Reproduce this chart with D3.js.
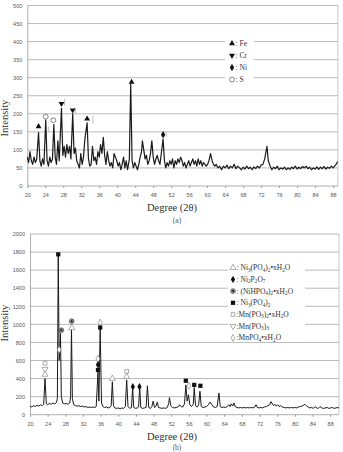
<!DOCTYPE html>
<html>
<head>
<meta charset="utf-8">
<script src="https://cdn.jsdelivr.net/npm/d3@7"></script>
<style>
body { margin: 0; background: #fff; }
</style>
</head>
<body>
<script>
const width = 343, height = 452;

// ---- panel (a) : XRD trace, [2theta, intensity]
const traceA = [
  [20.0,80],[20.3,65],[20.6,95],[20.9,70],[21.2,60],[21.5,80],[21.8,65],[22.1,75],[22.5,148],[22.8,70],
  [23.1,55],[23.4,75],[23.7,60],[24.1,183],[24.4,70],[24.7,55],[25.0,80],[25.3,65],[25.6,75],[25.9,170],
  [26.2,80],[26.5,60],[26.8,125],[27.1,70],[27.6,215],[27.9,85],[28.2,110],[28.5,80],[28.8,115],[29.1,90],
  [29.4,110],[29.7,75],[30.1,200],[30.4,90],[30.7,105],[31.0,70],[31.3,60],[31.6,50],[31.9,90],[32.2,60],
  [32.5,80],[32.8,130],[33.3,175],[33.6,75],[33.9,55],[34.2,60],[34.5,110],[34.8,70],[35.1,80],[35.4,60],
  [35.7,95],[36.0,80],[36.3,115],[36.6,90],[36.9,135],[37.2,85],[37.5,60],[37.8,95],[38.1,70],[38.4,55],
  [38.7,65],[39.0,50],[39.3,90],[39.6,80],[39.9,70],[40.2,55],[40.5,65],[40.8,45],[41.1,60],[41.4,80],
  [41.7,50],[42.0,70],[42.3,45],[42.7,75],[43.0,283],[43.3,70],[43.6,50],[43.9,65],[44.2,55],[44.5,45],
  [44.8,60],[45.1,80],[45.4,95],[45.6,125],[45.9,100],[46.2,75],[46.5,85],[46.8,60],[47.1,70],[47.4,90],
  [47.7,125],[48.0,80],[48.3,60],[48.6,75],[48.9,85],[49.2,70],[49.5,60],[49.8,90],[50.2,130],[50.5,70],
  [50.8,50],[51.1,65],[51.4,55],[51.7,70],[52.0,60],[52.3,75],[52.6,50],[52.9,70],[53.2,60],[53.5,75],
  [53.8,65],[54.1,80],[54.4,70],[54.7,55],[55.0,65],[55.3,50],[55.6,60],[55.9,70],[56.2,55],[56.5,65],
  [56.8,75],[57.1,60],[57.4,70],[57.7,55],[58.0,75],[58.3,60],[58.6,70],[58.9,55],[59.2,65],[59.5,60],
  [59.8,55],[60.1,60],[60.4,70],[60.75,90],[61.1,70],[61.4,60],[61.7,55],[62.0,60],[62.4,50],[62.8,55],
  [63.2,45],[63.6,55],[64.0,50],[64.4,58],[64.8,48],[65.2,55],[65.6,50],[66.0,60],[66.4,48],[66.8,55],
  [67.2,50],[67.6,45],[68.0,52],[68.4,47],[68.8,55],[69.2,48],[69.6,52],[70.0,45],[70.4,53],[70.8,48],
  [71.2,55],[71.6,50],[72.0,58],[72.4,60],[72.8,75],[73.3,110],[73.6,70],[74.0,55],[74.4,45],[74.8,52],
  [75.2,48],[75.6,55],[76.0,45],[76.4,50],[76.8,47],[77.2,52],[77.6,45],[78.0,50],[78.4,46],[78.8,52],
  [79.2,48],[79.6,55],[80.0,47],[80.4,52],[80.8,48],[81.2,54],[81.6,50],[82.0,55],[82.4,48],[82.8,52],
  [83.2,45],[83.6,50],[84.0,47],[84.4,53],[84.8,46],[85.2,52],[85.6,48],[86.0,54],[86.4,47],[86.8,52],
  [87.2,49],[87.6,55],[88.0,50],[88.4,56],[88.8,62],[89.0,68]
];
const yTicksA = [0,50,100,150,200,250,300,350,400,450,500];
// phase markers on the peaks
const markersA = [
  {deg:22.5, val:165, sym:"tri"},
  {deg:24.1, val:192, sym:"circle"},
  {deg:25.8, val:182, sym:"circle"},
  {deg:27.6, val:228, sym:"triDown"},
  {deg:30.1, val:210, sym:"triDown"},
  {deg:33.3, val:186, sym:"tri"},
  {deg:43.2, val:288, sym:"tri"},
  {deg:50.2, val:142, sym:"diamond"}
];
// little pointer lines beside some markers: [2theta, from, to]
const leadersA = [[28.3,222,242],[30.7,200,216],[34.6,172,194],[50.9,136,150],[24.7,150,165]];
const legendA = [
  {sym:"tri", label:": Fe"},
  {sym:"triDown", label:": Cr"},
  {sym:"diamond", label:": Ni"},
  {sym:"circle", label:": S"}
];

// ---- panel (b)
const traceB = [
  [20.0,95],[20.4,85],[20.8,100],[21.2,90],[21.6,105],[22.0,95],[22.4,110],[22.8,100],[23.1,115],[23.4,400],
  [23.7,120],[24.0,110],[24.4,125],[24.8,115],[25.2,130],[25.6,120],[26.0,135],[26.2,180],[26.4,1760],[26.6,600],
  [26.75,700],[26.9,900],[27.1,200],[27.4,130],[27.8,120],[28.2,125],[28.6,115],[29.0,130],[29.2,200],[29.4,950],
  [29.6,180],[29.9,110],[30.3,100],[30.7,95],[31.1,100],[31.5,90],[31.9,95],[32.3,85],[32.7,90],[33.1,80],
  [33.5,85],[33.9,80],[34.3,85],[34.7,80],[35.0,90],[35.4,470],[35.6,150],[35.9,960],[36.2,130],[36.5,90],
  [36.9,80],[37.3,85],[37.7,75],[38.1,80],[38.4,100],[38.65,365],[38.9,100],[39.2,75],[39.6,70],[40.0,75],
  [40.4,65],[40.8,75],[41.2,70],[41.6,90],[41.9,385],[42.2,90],[42.6,70],[43.0,80],[43.25,300],[43.5,80],
  [43.9,70],[44.3,75],[44.6,85],[44.85,300],[45.1,80],[45.5,70],[45.9,75],[46.3,80],[46.6,320],[46.9,80],
  [47.3,70],[47.6,90],[47.9,150],[48.2,80],[48.5,90],[48.85,140],[49.1,80],[49.5,75],[49.9,70],[50.3,75],
  [50.7,70],[51.1,80],[51.4,120],[51.6,190],[51.9,100],[52.3,80],[52.7,75],[53.1,80],[53.5,85],[53.9,110],
  [54.2,90],[54.6,85],[55.0,120],[55.3,330],[55.6,150],[55.9,220],[56.2,110],[56.6,90],[57.0,120],[57.2,300],
  [57.5,100],[57.9,85],[58.2,110],[58.5,260],[58.8,90],[59.2,80],[59.6,85],[60.0,90],[60.4,110],[60.8,140],
  [61.2,110],[61.6,85],[62.0,80],[62.4,90],[62.8,240],[63.1,90],[63.5,80],[63.9,85],[64.3,80],[64.7,90],
  [65.0,110],[65.3,90],[65.6,120],[65.9,95],[66.2,130],[66.5,90],[66.9,80],[67.3,75],[67.7,80],[68.1,75],
  [68.5,80],[68.9,75],[69.3,80],[69.7,75],[70.1,80],[70.5,75],[70.9,85],[71.2,110],[71.5,80],[71.9,75],
  [72.3,80],[72.7,75],[73.1,85],[73.5,90],[73.9,100],[74.3,110],[74.6,145],[74.9,120],[75.2,100],[75.5,115],
  [75.8,95],[76.1,110],[76.4,90],[76.8,100],[77.2,85],[77.6,80],[78.0,75],[78.4,80],[78.8,75],[79.2,80],
  [79.6,75],[80.0,80],[80.4,75],[80.8,85],[81.2,90],[81.6,95],[82.0,105],[82.3,115],[82.6,100],[83.0,85],
  [83.4,75],[83.8,80],[84.2,70],[84.6,90],[84.9,75],[85.3,70],[85.7,90],[86.1,75],[86.5,70],[86.9,75],
  [87.3,80],[87.7,70],[88.1,75],[88.5,80],[88.9,70],[89.3,75],[89.7,80],[90.0,75]
];
const yTicksB = [0,200,400,600,800,1000,1200,1400,1600,1800,2000];
const markersB = [
  {deg:23.4, val:570, sym:"squareOpen"},
  {deg:23.4, val:505, sym:"triDownOpen"},
  {deg:23.4, val:445, sym:"triOpen"},
  {deg:26.4, val:1775, sym:"square"},
  {deg:27.1, val:935, sym:"dotCircle"},
  {deg:26.6, val:720, sym:"diamondOpen"},
  {deg:29.45, val:1035, sym:"dotCircle"},
  {deg:29.45, val:960, sym:"triOpen"},
  {deg:35.4, val:620, sym:"diamondOpen"},
  {deg:35.4, val:553, sym:"diamond"},
  {deg:35.4, val:495, sym:"square"},
  {deg:35.9, val:1020, sym:"diamondOpen"},
  {deg:35.9, val:965, sym:"square"},
  {deg:38.65, val:400, sym:"triOpen"},
  {deg:41.9, val:480, sym:"squareOpen"},
  {deg:41.9, val:420, sym:"triOpen"},
  {deg:43.3, val:310, sym:"diamond"},
  {deg:44.8, val:310, sym:"diamond"},
  {deg:55.3, val:376, sym:"square"},
  {deg:56.0, val:318, sym:"diamondOpen"},
  {deg:57.2, val:330, sym:"square"},
  {deg:58.6, val:320, sym:"square"}
];
// "_" marks the next digit as a subscript
const legendB = [
  {sym:"triOpen", label:": Ni_3(PO_4)_2•xH_2O"},
  {sym:"diamond", label:": Ni_2P_2O_7"},
  {sym:"dotCircle", label:": (NiHPO_4)_2•xH_2O"},
  {sym:"square", label:": Ni_3(PO_4)_2"},
  {sym:"squareOpen", label:":Mn(PO_3)_2•xH_2O"},
  {sym:"triDownOpen", label:":Mn(PO_3)_3"},
  {sym:"diamondOpen", label:":MnPO_4•xH_2O"}
];

const xTicks = [20,24,28,32,36,40,44,48,52,56,60,64,68,72,76,80,84,88];

const svg = d3.select("body").append("svg")
    .attr("width", width)
    .attr("height", height);

const serif = "'Liberation Serif', 'DejaVu Serif', serif";
const sans = "'Liberation Sans', Arial, sans-serif";

function drawSymbol(g, sym, x, y) {
    if (sym == "tri" || sym == "triDown" || sym == "triOpen" || sym == "triDownOpen") {
        const open = sym.indexOf("Open") > 0;
        const down = sym.indexOf("Down") > 0;
        g.append("path")
            .attr("d", d3.symbol(d3.symbolTriangle, open ? 16 : 15)())
            .attr("transform", "translate(" + x + "," + y + ")" + (down ? " rotate(180)" : ""))
            .attr("fill", open ? "#fff" : "#111")
            .attr("stroke", open ? "#777" : "none")
            .attr("stroke-width", 0.6);
    } else if (sym == "diamond" || sym == "diamondOpen") {
        const open = sym == "diamondOpen";
        g.append("path")
            .attr("d", d3.symbol(d3.symbolDiamond, open ? 14 : 16)())
            .attr("transform", "translate(" + x + "," + y + ")")
            .attr("fill", open ? "#fff" : "#111")
            .attr("stroke", open ? "#777" : "none")
            .attr("stroke-width", 0.6);
    } else if (sym == "square" || sym == "squareOpen") {
        const open = sym == "squareOpen";
        g.append("path")
            .attr("d", d3.symbol(d3.symbolSquare, open ? 14 : 18)())
            .attr("transform", "translate(" + x + "," + y + ")")
            .attr("fill", open ? "#fff" : "#111")
            .attr("stroke", open ? "#777" : "none")
            .attr("stroke-width", 0.6);
    } else if (sym == "circle") {
        g.append("circle")
            .attr("cx", x).attr("cy", y).attr("r", 2.4)
            .attr("fill", "#fff").attr("stroke", "#555").attr("stroke-width", 0.7);
    } else if (sym == "dotCircle") {
        g.append("circle")
            .attr("cx", x).attr("cy", y).attr("r", 2.4)
            .attr("fill", "#999").attr("stroke", "#333").attr("stroke-width", 0.6);
        g.append("circle")
            .attr("cx", x).attr("cy", y).attr("r", 1)
            .attr("fill", "#111");
    }
}

// writes a label, lowering the digits that follow "_"
function chemText(t, label, size) {
    let low = false;
    label.split(/(_\d)/).filter(s => s.length).forEach(s => {
        if (s[0] == "_") {
            t.append("tspan").attr("dy", low ? 0 : 1.5)
                .style("font-size", (size * 0.7) + "px").text(s.slice(1));
            low = true;
        } else {
            t.append("tspan").attr("dy", low ? -1.5 : 0).text(s);
            low = false;
        }
    });
}

function drawPanel(opt) {
    const x = d3.scaleLinear().domain(opt.xDomain).range([opt.left, opt.right]);
    const y = d3.scaleLinear().domain([0, opt.yMax]).range([opt.bottom, opt.top]);
    const g = svg.append("g");

    // gridlines
    g.append("g")
        .selectAll("line")
        .data(opt.yTicks.slice(1))
        .enter()
        .append("line")
        .attr("x1", opt.left).attr("x2", opt.right)
        .attr("y1", d => y(d)).attr("y2", d => y(d))
        .attr("stroke", "#a8a8a8")
        .attr("stroke-width", 0.8);

    // right border
    g.append("line")
        .attr("x1", opt.right).attr("x2", opt.right)
        .attr("y1", opt.top).attr("y2", opt.bottom)
        .attr("stroke", "#bbb").attr("stroke-width", 0.8);

    // axes
    const yAxis = d3.axisLeft(y).tickValues(opt.yTicks).tickFormat(d3.format("d")).tickSize(0).tickPadding(5);
    const xAxis = d3.axisBottom(x).tickValues(xTicks).tickSize(2).tickPadding(5);
    const ya = g.append("g")
        .attr("transform", "translate(" + opt.left + ",0)")
        .call(yAxis);
    const xa = g.append("g")
        .attr("transform", "translate(0," + opt.bottom + ")")
        .call(xAxis);
    [ya, xa].forEach(a => {
        a.select(".domain").attr("stroke", "#999").attr("stroke-width", 0.8);
        a.selectAll(".tick line").attr("stroke", "#999");
        a.selectAll("text").attr("fill", "#555").style("font-family", sans).style("font-size", "5.5px");
    });
    // x axis domain should span full width
    xa.select(".domain").attr("d", "M" + opt.left + ",0H" + opt.right);

    // legend box hides the gridlines behind it
    g.append("rect")
        .attr("x", opt.legendBox[0]).attr("y", opt.legendBox[1])
        .attr("width", opt.legendBox[2]).attr("height", opt.legendBox[3])
        .attr("fill", "#fff");

    const line = d3.line()
        .x(d => x(d[0]))
        .y(d => y(d[1]));

    g.append("path")
        .datum(opt.trace)
        .attr("d", line)
        .attr("fill", "none")
        .attr("stroke", "#1a1a1a")
        .attr("stroke-width", opt.lineWidth)
        .attr("stroke-linejoin", "round");

    (opt.leaders || []).forEach(l => {
        g.append("line")
            .attr("x1", x(l[0])).attr("x2", x(l[0]))
            .attr("y1", y(l[1])).attr("y2", y(l[2]))
            .attr("stroke", "#999").attr("stroke-width", 0.6);
    });

    opt.markers.forEach(m => drawSymbol(g, m.sym, x(m.deg), y(m.val)));

    // legend entries
    opt.legend.forEach((d, i) => {
        const ly = opt.legendY + i * opt.legendStep;
        drawSymbol(g, d.sym, opt.legendX, ly);
        const t = g.append("text")
            .attr("x", opt.legendX + 3.5)
            .attr("y", ly + 2.4)
            .attr("fill", "#333")
            .style("font-family", serif)
            .style("font-size", opt.legendFont + "px");
        chemText(t, d.label, opt.legendFont);
    });

    // axis titles
    g.append("text")
        .attr("transform", "translate(" + 8 + "," + opt.yTitle + ") rotate(-90)")
        .attr("text-anchor", "middle")
        .attr("fill", "#333")
        .style("font-family", serif)
        .style("font-size", "10.5px")
        .text("Intensity");
    g.append("text")
        .attr("x", 172).attr("y", opt.bottom + 25)
        .attr("text-anchor", "middle")
        .attr("fill", "#333")
        .style("font-family", serif)
        .style("font-size", "10.5px")
        .text("Degree (2θ)");
    g.append("text")
        .attr("x", 177).attr("y", opt.captionY)
        .attr("text-anchor", "middle")
        .attr("fill", "#555")
        .style("font-family", serif)
        .style("font-size", "7.5px")
        .text(opt.caption);
}

drawPanel({
    trace: traceA, markers: markersA, leaders: leadersA, legend: legendA,
    xDomain: [20, 89.1], yMax: 500, yTicks: yTicksA, lineWidth: 1.2,
    left: 27.3, right: 338, top: 5.5, bottom: 186,
    legendBox: [225, 37, 29, 48], legendX: 232, legendY: 43.5, legendStep: 12, legendFont: 7.5,
    yTitle: 118, caption: "(a)", captionY: 222.5
});

drawPanel({
    trace: traceB, markers: markersB, legend: legendB,
    xDomain: [20, 90], yMax: 2000, yTicks: yTicksB, lineWidth: 1,
    left: 30, right: 339, top: 234, bottom: 414.7,
    legendBox: [228, 262, 77, 80], legendX: 233, legendY: 267.7, legendStep: 11.7, legendFont: 7.5,
    yTitle: 323, caption: "(b)", captionY: 449.5
});
</script>
</body>
</html>
